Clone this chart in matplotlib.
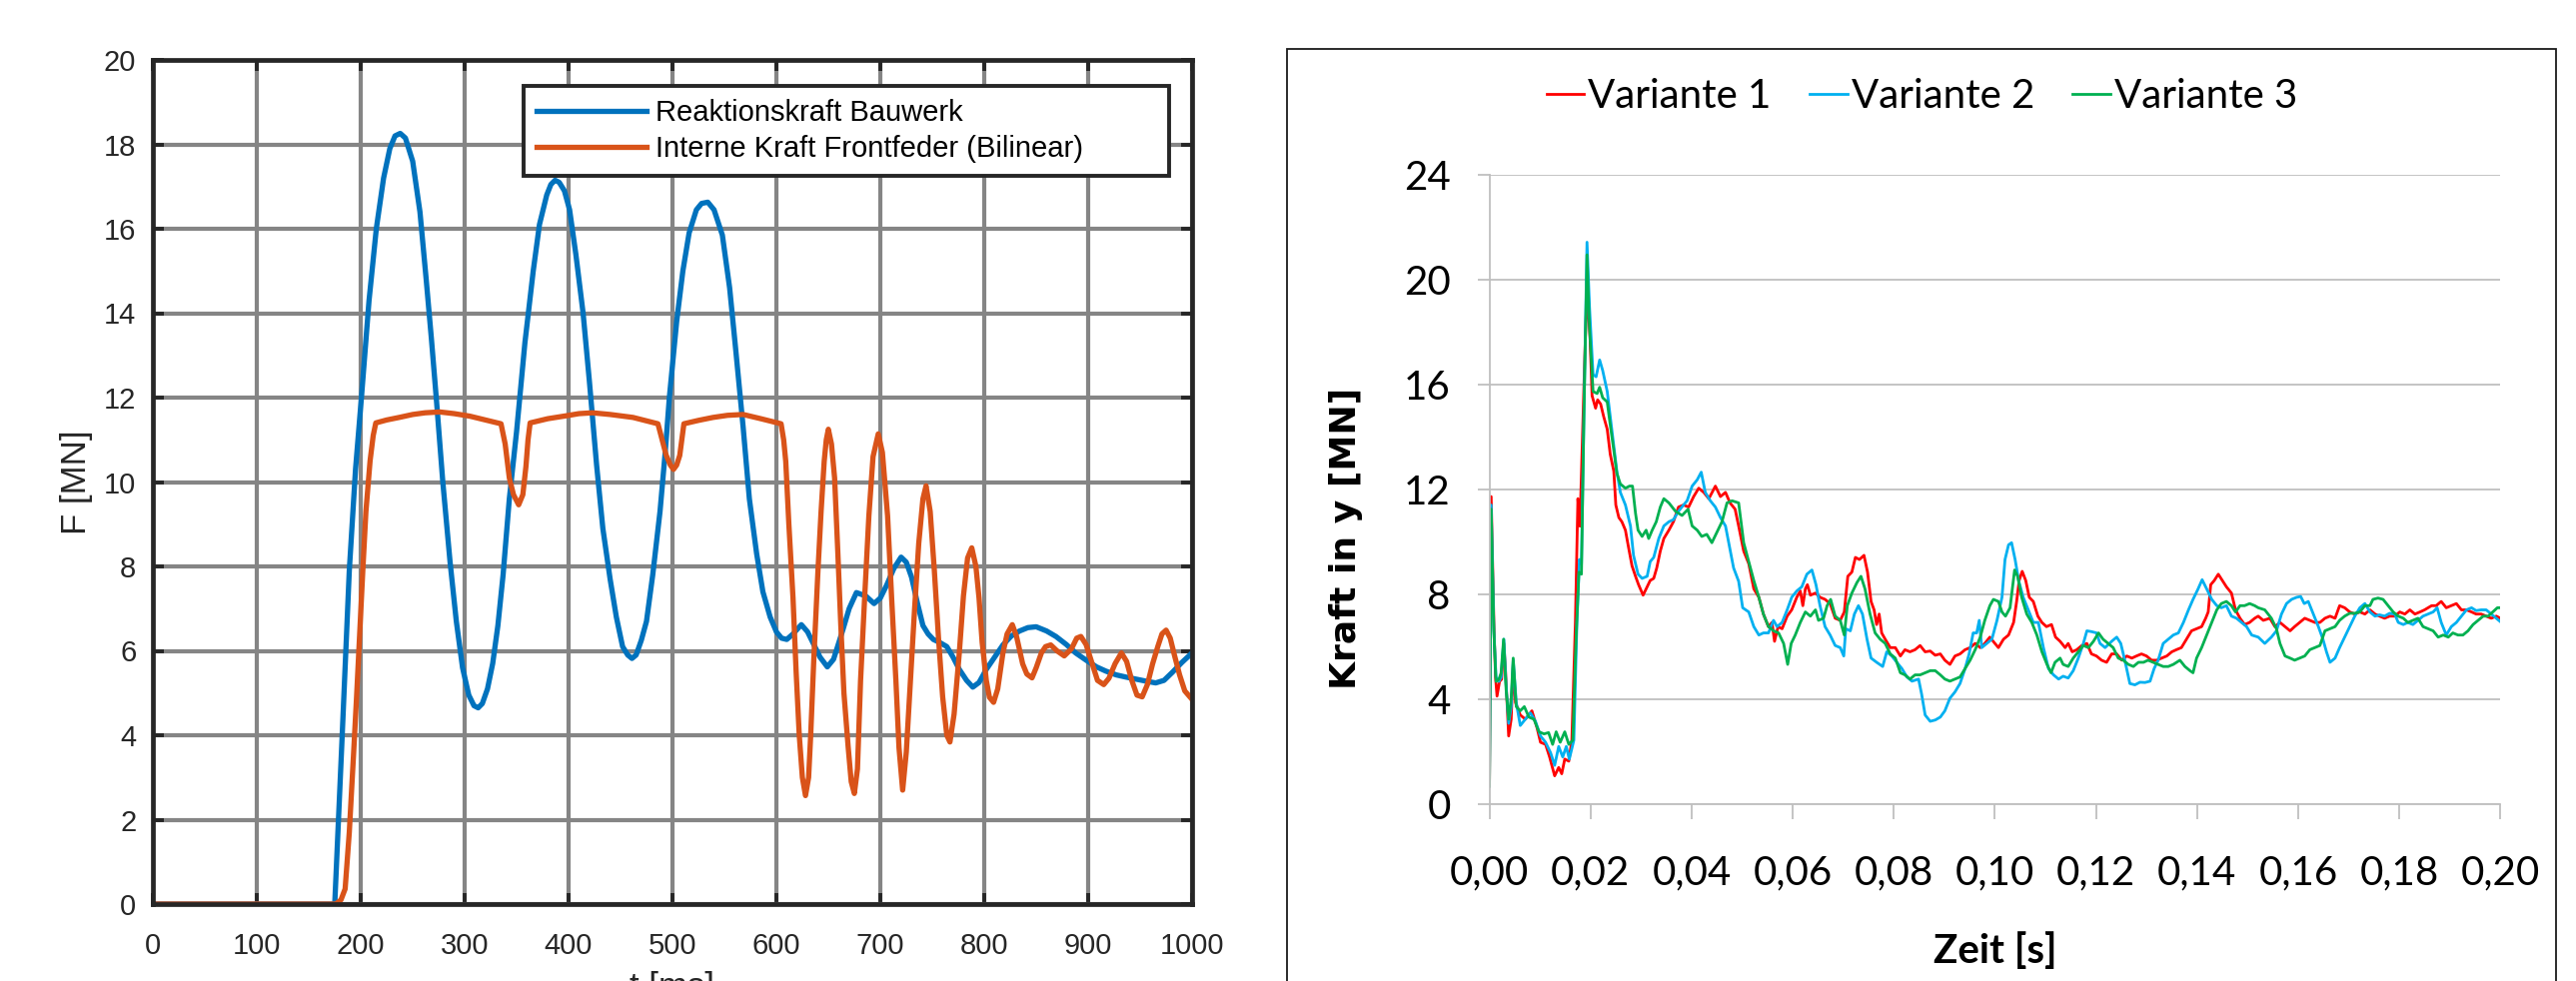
import matplotlib
matplotlib.use("Agg")
import matplotlib.pyplot as plt
import numpy as np
from matplotlib.patches import Rectangle
from matplotlib.ticker import FuncFormatter

# ---- linkes Diagramm (MATLAB): Zeit in ms, Kraft in MN ----
bau_t = [0, 175, 182, 189, 195, 201, 208, 215, 222, 228, 233, 238, 243, 250, 257, 263, 268, 273, 279, 286,
         292, 298, 304, 309, 313, 317, 322, 327, 332, 337, 343, 350, 358, 366, 372, 379, 383, 387, 391, 396,
         401, 407, 414, 420, 427, 433, 440, 446, 452, 457, 461, 465, 470, 475, 481, 488, 493, 497, 504, 510,
         516, 523, 528, 534, 540, 548, 555, 561, 568, 574, 581, 587, 594, 600, 605, 610, 616, 624, 630, 635,
         642, 649, 655, 664, 670, 677, 686, 694, 700, 706, 713, 720, 725, 730, 736, 741, 746, 751, 757, 764,
         770, 776, 783, 789, 795, 802, 810, 818, 826, 834, 842, 850, 860, 869, 879, 888, 898, 908, 917, 927,
         936, 946, 956, 965, 973, 981, 990, 1000]
bau_f = [0, 0, 3.9, 7.9, 10.3, 12.1, 14.3, 16.0, 17.2, 17.9, 18.2, 18.26, 18.15, 17.6, 16.4, 14.8, 13.4, 11.9, 10.0, 8.1,
         6.7, 5.6, 4.95, 4.7, 4.65, 4.75, 5.1, 5.7, 6.6, 7.8, 9.6, 11.2, 13.3, 15.0, 16.1, 16.8, 17.05, 17.15, 17.1, 16.9,
         16.45, 15.4, 14.0, 12.4, 10.4, 8.9, 7.7, 6.8, 6.1, 5.9, 5.82, 5.9, 6.25, 6.7, 7.8, 9.3, 10.7, 12.0, 13.8, 15.0,
         15.9, 16.45, 16.6, 16.63, 16.45, 15.85, 14.6, 13.1, 11.3, 9.6, 8.3, 7.4, 6.8, 6.45, 6.3, 6.27, 6.4, 6.62, 6.45, 6.2,
         5.85, 5.62, 5.8, 6.5, 7.0, 7.38, 7.3, 7.12, 7.25, 7.55, 7.95, 8.22, 8.1, 7.75, 7.1, 6.6, 6.4, 6.27, 6.2, 6.1,
         5.85, 5.56, 5.3, 5.14, 5.25, 5.56, 5.85, 6.14, 6.35, 6.47, 6.55, 6.57, 6.47, 6.34, 6.15, 5.95, 5.78, 5.62, 5.52, 5.43,
         5.38, 5.33, 5.28, 5.24, 5.3, 5.49, 5.72, 5.95]

feder_t = [0, 176, 181, 185, 189, 193, 196, 199, 202, 205, 209, 212, 214.5, 225, 237, 250, 262, 276, 290, 305,
           320, 335, 339, 343, 347, 352, 356, 359, 361, 363, 380, 398, 410, 423, 440, 462, 475, 486, 490, 494,
           498, 501, 504, 507, 509, 511, 525, 539, 553, 568, 585, 604.5, 607, 609, 612, 616, 619, 622, 625, 628,
           631, 633, 636, 640, 643, 646, 648, 650, 653, 656, 659, 662, 665, 669, 672, 675, 678, 681, 685, 689,
           693, 698, 702, 707, 711, 715, 718, 721.5, 725, 729, 733, 737, 741, 744, 748, 752, 756, 760, 764, 767,
           771, 776, 780, 784, 788, 792, 795, 798, 802, 805, 809, 813, 818, 822, 827, 831, 837, 841, 846, 850,
           855, 859, 864, 870, 877, 884, 889, 893, 898, 904, 909, 915, 920, 926, 932, 937, 942, 947, 952, 957,
           962, 967, 971, 975, 979, 983, 988, 993, 1000]
feder_f = [0, 0, 0.1, 0.36, 1.7, 3.5, 4.9, 6.4, 7.9, 9.3, 10.5, 11.1, 11.4, 11.47, 11.53, 11.6, 11.64, 11.66, 11.62, 11.56,
           11.47, 11.38, 10.9, 10.1, 9.7, 9.46, 9.7, 10.37, 11.0, 11.4, 11.5, 11.57, 11.62, 11.64, 11.6, 11.53, 11.45, 11.38, 11.0, 10.63,
           10.4, 10.3, 10.4, 10.63, 11.0, 11.38, 11.46, 11.53, 11.58, 11.6, 11.5, 11.38, 11.0, 10.49, 9.0, 7.25, 5.5, 4.0, 3.0, 2.57,
           3.0, 4.0, 5.8, 7.9, 9.3, 10.49, 11.0, 11.25, 10.9, 10.1, 8.4, 6.6, 5.0, 3.74, 2.9, 2.62, 3.2, 5.3, 7.3, 9.2,
           10.6, 11.14, 10.7, 9.2, 7.2, 5.3, 3.7, 2.7, 3.6, 5.3, 7.0, 8.55, 9.6, 9.91, 9.3, 7.9, 6.3, 4.91, 4.0, 3.84,
           4.5, 5.95, 7.3, 8.2, 8.44, 8.0, 7.25, 6.2, 5.3, 4.9, 4.78, 5.1, 5.95, 6.4, 6.62, 6.35, 5.69, 5.45, 5.36, 5.6,
           5.95, 6.1, 6.14, 6.0, 5.88, 6.05, 6.3, 6.34, 6.15, 5.69, 5.3, 5.2, 5.35, 5.7, 5.95, 5.75, 5.3, 4.95, 4.91, 5.2,
           5.69, 6.1, 6.4, 6.49, 6.3, 5.9, 5.43, 5.05, 4.85]

# ---- rechtes Diagramm (Excel): Zeit in ms, Kraft in MN ----
v1_t = [0, 0.34, 0.87, 1.2, 1.5, 2.0, 2.4, 2.85, 3.2, 3.8, 4.3, 4.7, 5.15, 6.1, 7.1, 8.4, 9.4, 10.1, 11.1, 11.9,
        12.9, 13.7, 14.3, 14.9, 15.7, 16.3, 17.0, 17.5, 17.9, 18.3, 18.9, 19.3, 19.9, 20.3, 21.0, 21.4, 22.0, 22.6, 23.3, 23.9,
        24.6, 25.0, 25.6, 26.2, 26.9, 27.5, 28.2, 28.9, 29.5, 30.4, 31.2, 31.8, 32.5, 33.1, 33.8, 34.5, 35.5, 36.4, 37.4, 38.4,
        39.4, 40.4, 41.4, 42.4, 43.4, 44.7, 45.7, 46.7, 47.6, 48.6, 49.3, 50.3, 51.3, 52.3, 53.3, 54.2, 55.2, 55.9, 56.4, 57.1,
        57.9, 58.9, 59.8, 60.8, 61.5, 62.0, 62.5, 62.9, 63.5, 64.5, 65.4, 66.4, 67.4, 68.4, 69.4, 70.2, 70.9, 71.7, 72.4, 73.2,
        74.1, 74.8, 75.5, 76.1, 76.6, 77.1, 77.6, 78.3, 79.3, 80.3, 81.3, 82.2, 83.2, 84.2, 85.2, 86.2, 87.2, 88.2, 89.2, 90.1,
        91.1, 92.1, 93.1, 94.1, 95.1, 96.1, 97.1, 98.0, 99.0, 100.0, 100.7, 101.7, 102.7, 103.7, 104.3, 104.8, 105.4, 106.1, 106.8, 107.6,
        108.5, 109.3, 110.2, 111.2, 112.0, 112.9, 113.9, 114.5, 115.3, 116.2, 117.2, 118.2, 119.1, 120.1, 121.1, 122.1, 123.1, 124.1, 125.1, 126.1,
        127.1, 128.0, 129.0, 130.0, 131.0, 132.0, 133.0, 134.0, 135.0, 135.9, 136.9, 137.9, 138.9, 139.9, 140.9, 141.7, 142.2, 142.7, 143.4, 144.2,
        145.0, 145.8, 146.8, 147.6, 148.5, 149.4, 150.4, 151.4, 152.1, 153.1, 154.4, 155.4, 156.4, 157.4, 158.4, 159.3, 160.3, 161.3, 162.3, 163.3,
        164.3, 165.3, 166.3, 167.3, 168.2, 169.2, 170.2, 171.2, 172.2, 173.2, 174.2, 175.2, 176.1, 177.1, 178.1, 179.1, 180.1, 181.1, 182.1, 183.1,
        184.1, 185.0, 186.4, 187.3, 188.3, 189.3, 190.3, 191.3, 192.3, 193.3, 194.3, 195.2, 196.2, 197.2, 198.2, 199.2, 200.0]
v1_f = [0.7, 11.73, 6.93, 4.84, 4.12, 4.68, 4.76, 6.13, 5.0, 2.6, 3.24, 5.33, 3.88, 3.4, 3.24, 3.56, 2.92, 2.36, 2.28, 1.8,
        1.08, 1.4, 1.16, 1.72, 1.64, 2.44, 6.93, 11.65, 10.6, 13.34, 17.34, 19.6, 17.82, 15.58, 15.1, 15.42, 15.26, 14.78, 14.3, 13.34,
        12.7, 11.41, 10.93, 10.77, 10.45, 9.81, 9.09, 8.69, 8.37, 7.97, 8.29, 8.53, 8.61, 9.01, 9.65, 10.13, 10.45, 10.77, 11.33, 11.41,
        11.33, 11.73, 12.05, 11.89, 11.65, 12.13, 11.73, 11.89, 11.49, 11.25, 10.61, 9.65, 9.17, 8.21, 7.89, 7.25, 6.77, 6.93, 6.21, 6.77,
        6.69, 7.17, 7.41, 7.89, 8.13, 7.57, 8.21, 8.37, 7.97, 8.05, 7.89, 7.81, 7.65, 7.09, 7.01, 7.33, 8.69, 8.85, 9.41, 9.33,
        9.49, 8.85, 7.73, 7.41, 6.85, 7.25, 6.53, 6.29, 5.97, 5.97, 5.65, 5.89, 5.81, 5.89, 6.05, 5.81, 5.84, 5.68, 5.73, 5.49,
        5.33, 5.65, 5.73, 5.89, 5.97, 6.13, 5.97, 6.13, 6.37, 6.13, 5.97, 6.29, 6.45, 6.93, 7.73, 8.53, 8.88, 8.53, 7.89, 7.73,
        7.17, 6.93, 6.77, 6.85, 6.37, 6.21, 5.97, 6.13, 5.81, 5.89, 6.05, 6.13, 5.73, 5.65, 5.49, 5.41, 5.73, 5.73, 5.49, 5.65,
        5.57, 5.65, 5.73, 5.65, 5.49, 5.49, 5.57, 5.65, 5.81, 5.89, 5.97, 6.29, 6.61, 6.69, 6.77, 7.09, 7.33, 8.37, 8.53, 8.77,
        8.53, 8.29, 8.05, 7.41, 7.09, 6.85, 6.93, 7.09, 7.17, 7.01, 7.09, 6.77, 6.93, 6.77, 6.61, 6.77, 6.93, 7.09, 7.01, 6.93,
        6.93, 7.09, 7.17, 7.09, 7.57, 7.49, 7.33, 7.25, 7.33, 7.25, 7.41, 7.25, 7.17, 7.09, 7.17, 7.17, 7.33, 7.25, 7.41, 7.25,
        7.33, 7.41, 7.57, 7.57, 7.73, 7.49, 7.57, 7.65, 7.41, 7.41, 7.33, 7.25, 7.25, 7.17, 7.09, 7.17, 7.09]

v2_t = [0, 0.34, 0.87, 1.3, 1.86, 2.3, 2.85, 3.3, 3.8, 4.3, 4.7, 5.3, 6.1, 7.1, 8.1, 9.1, 10.1, 11.1, 12.1, 12.9,
        13.7, 14.5, 15.2, 15.8, 16.7, 17.3, 17.8, 18.2, 18.7, 19.3, 19.8, 20.5, 21.1, 21.8, 22.4, 23.3, 23.9, 24.6, 25.2, 25.9,
        26.9, 27.9, 28.5, 29.4, 30.2, 31.2, 31.8, 32.5, 33.5, 34.5, 35.5, 36.4, 37.4, 38.4, 39.1, 40.1, 41.1, 41.9, 42.7, 43.7,
        44.7, 45.7, 46.7, 47.5, 48.3, 49.3, 50.1, 51.3, 52.3, 53.3, 54.2, 55.2, 56.2, 56.9, 57.9, 58.9, 59.8, 60.8, 61.8, 62.8,
        63.8, 64.6, 65.4, 66.4, 67.4, 68.4, 69.4, 70.1, 70.5, 71.4, 72.2, 73.0, 73.8, 74.7, 75.5, 76.6, 77.8, 78.6, 79.6, 80.6,
        81.6, 82.6, 83.6, 84.9, 85.5, 86.2, 87.2, 88.2, 89.2, 90.1, 91.1, 92.1, 93.1, 94.1, 94.9, 95.7, 96.4, 96.9, 97.4, 98.4,
        99.4, 100.4, 101.4, 102.0, 102.7, 103.3, 104.0, 104.7, 105.6, 106.6, 107.6, 108.6, 109.6, 110.6, 111.6, 112.6, 113.5, 114.5, 115.5, 116.5,
        117.5, 118.2, 119.1, 120.1, 120.8, 121.8, 123.1, 124.1, 124.9, 125.7, 126.7, 127.7, 128.7, 129.7, 130.7, 131.5, 132.3, 133.3, 134.3, 135.3,
        136.3, 137.3, 138.3, 139.2, 140.2, 141.0, 141.9, 142.9, 143.9, 144.8, 145.8, 146.8, 147.8, 148.8, 149.8, 150.8, 152.1, 153.4, 154.7, 155.7,
        156.7, 157.7, 158.7, 159.7, 160.5, 161.2, 162.0, 163.0, 164.0, 164.9, 165.6, 166.3, 167.3, 168.2, 169.2, 170.2, 171.2, 172.2, 173.2, 174.2,
        175.2, 176.1, 177.1, 178.1, 179.1, 179.8, 180.8, 181.7, 182.7, 183.7, 184.7, 185.7, 186.7, 187.5, 188.3, 189.3, 190.3, 191.3, 192.3, 193.3,
        194.3, 195.2, 196.2, 197.2, 198.2, 199.2, 200.0]
v2_f = [0.9, 11.41, 6.61, 4.84, 4.68, 4.84, 6.29, 4.52, 3.08, 3.72, 5.49, 3.88, 3.0, 3.24, 3.48, 3.16, 2.6, 2.36, 1.96, 1.48,
        2.2, 1.8, 2.2, 1.72, 2.44, 6.93, 9.33, 9.17, 14.94, 21.43, 18.94, 16.38, 16.3, 16.94, 16.54, 15.74, 14.78, 13.66, 12.7, 11.89,
        11.41, 10.61, 9.49, 8.77, 8.61, 8.69, 9.25, 9.41, 10.13, 10.61, 10.77, 10.85, 11.17, 11.41, 11.57, 12.13, 12.37, 12.66, 11.89, 11.57,
        11.33, 10.93, 10.61, 9.81, 9.01, 8.5, 7.49, 7.33, 6.77, 6.45, 6.53, 6.53, 7.01, 6.77, 6.93, 7.41, 7.89, 8.13, 8.29, 8.77,
        8.93, 8.37, 7.57, 6.77, 6.45, 6.05, 5.97, 5.65, 6.69, 6.61, 7.25, 7.57, 7.25, 6.29, 5.57, 5.41, 5.25, 5.81, 5.65, 5.41,
        5.17, 4.85, 4.69, 4.77, 4.2, 3.4, 3.16, 3.21, 3.32, 3.56, 4.04, 4.28, 4.6, 5.17, 5.73, 6.53, 6.53, 7.01, 5.97, 6.13,
        6.29, 7.0, 7.89, 9.33, 9.89, 9.97, 9.33, 8.53, 7.89, 7.41, 6.93, 6.93, 5.97, 5.17, 4.93, 4.77, 4.88, 4.81, 5.09, 5.57,
        6.13, 6.61, 6.58, 6.53, 6.13, 5.97, 6.21, 6.37, 6.13, 5.49, 4.6, 4.55, 4.65, 4.64, 4.69, 5.17, 5.49, 6.13, 6.29, 6.45,
        6.53, 6.93, 7.41, 7.81, 8.21, 8.56, 8.21, 7.81, 7.57, 7.49, 7.57, 7.17, 7.09, 6.93, 6.77, 6.45, 6.37, 6.13, 6.37, 6.61,
        7.25, 7.65, 7.81, 7.89, 7.92, 7.65, 7.73, 7.25, 6.77, 6.29, 5.81, 5.41, 5.57, 5.97, 6.37, 6.77, 7.17, 7.49, 7.65, 7.33,
        7.17, 7.22, 7.17, 7.28, 7.25, 6.93, 6.85, 6.93, 6.85, 7.01, 7.17, 7.25, 7.33, 7.49, 6.93, 6.45, 6.77, 6.93, 7.17, 7.41,
        7.49, 7.38, 7.41, 7.41, 7.25, 7.09, 6.96]

v3_t = [0, 0.34, 0.87, 1.3, 1.86, 2.3, 2.8, 3.3, 3.8, 4.3, 4.7, 5.3, 6.1, 6.9, 7.8, 8.8, 9.8, 10.8, 11.7, 12.5,
        13.2, 14.0, 14.9, 15.7, 16.5, 17.1, 17.7, 18.2, 18.7, 19.3, 19.8, 20.5, 21.3, 21.8, 22.4, 23.3, 23.9, 24.6, 25.2, 25.9,
        26.9, 27.7, 28.3, 28.9, 29.4, 30.2, 31.0, 31.5, 32.2, 33.0, 33.8, 34.5, 35.5, 36.8, 38.1, 39.3, 40.1, 41.1, 42.0, 43.0,
        44.0, 45.0, 46.0, 47.0, 48.0, 49.3, 50.3, 51.3, 52.3, 53.3, 54.2, 55.2, 56.2, 57.2, 58.2, 59.0, 59.7, 60.5, 61.5, 62.5,
        63.5, 64.5, 65.1, 66.1, 66.8, 67.5, 68.4, 69.4, 70.2, 70.8, 71.7, 72.7, 73.5, 74.3, 75.3, 76.3, 77.3, 78.3, 79.3, 80.3,
        81.3, 82.2, 83.2, 84.2, 85.2, 86.2, 87.2, 88.2, 89.2, 90.1, 91.1, 92.1, 93.1, 94.1, 95.1, 96.1, 97.1, 98.0, 99.0, 99.7,
        100.7, 101.4, 102.1, 103.0, 103.9, 104.5, 105.3, 106.3, 107.3, 108.3, 109.3, 110.3, 111.1, 111.9, 112.9, 113.5, 114.5, 115.5, 116.5, 117.5,
        118.5, 119.5, 120.5, 121.4, 122.4, 123.4, 124.4, 125.4, 126.4, 127.4, 128.4, 129.4, 130.3, 131.3, 132.3, 133.3, 134.3, 135.3, 136.6, 137.6,
        138.6, 139.2, 139.9, 140.9, 141.9, 142.9, 143.9, 144.8, 145.8, 146.8, 147.6, 148.5, 149.4, 150.4, 151.4, 152.1, 153.4, 154.7, 155.7, 156.4,
        157.4, 158.4, 159.3, 160.3, 161.3, 162.3, 163.3, 164.3, 165.3, 166.3, 167.3, 168.2, 169.2, 170.2, 171.2, 172.2, 173.2, 174.2, 174.8, 175.8,
        176.8, 177.8, 178.8, 179.8, 180.8, 181.7, 182.7, 183.7, 184.7, 185.7, 186.7, 187.7, 188.7, 189.7, 190.6, 191.6, 192.6, 193.6, 194.6, 195.6,
        196.6, 197.6, 198.5, 199.4, 200.0]
v3_f = [0.68, 11.25, 6.61, 4.68, 4.76, 5.0, 6.29, 4.36, 3.24, 4.04, 5.57, 3.72, 3.56, 3.72, 3.32, 3.24, 2.76, 2.68, 2.73, 2.28,
        2.76, 2.36, 2.76, 2.28, 2.44, 6.13, 8.85, 8.77, 14.94, 20.95, 18.14, 15.74, 15.66, 15.9, 15.5, 15.34, 14.46, 13.5, 12.62, 12.21,
        12.05, 12.13, 12.13, 11.09, 10.45, 10.21, 10.45, 10.13, 10.45, 10.77, 11.33, 11.65, 11.49, 11.17, 11.01, 11.25, 10.61, 10.45, 10.21, 10.29,
        9.97, 10.37, 10.77, 11.49, 11.57, 11.49, 9.97, 9.25, 8.53, 7.89, 7.25, 6.77, 6.61, 6.53, 6.13, 5.33, 6.13, 6.45, 6.93, 7.33,
        7.17, 7.41, 7.01, 7.09, 7.57, 7.81, 7.17, 7.01, 6.45, 7.57, 8.05, 8.45, 8.69, 8.21, 7.25, 6.53, 6.29, 6.13, 5.73, 5.57,
        5.01, 4.93, 4.77, 4.93, 4.93, 5.01, 5.09, 5.09, 4.93, 4.77, 4.69, 4.77, 4.85, 5.17, 5.49, 5.89, 6.37, 7.01, 7.57, 7.81,
        7.73, 7.33, 7.17, 7.49, 8.93, 8.69, 7.89, 7.25, 6.93, 6.45, 5.81, 5.33, 5.01, 5.41, 5.57, 5.33, 5.25, 5.57, 5.81, 6.05,
        5.97, 6.21, 6.53, 6.29, 6.13, 5.97, 5.57, 5.49, 5.33, 5.25, 5.41, 5.41, 5.49, 5.41, 5.33, 5.25, 5.25, 5.33, 5.49, 5.25,
        5.09, 5.01, 5.57, 5.97, 6.45, 6.93, 7.41, 7.65, 7.73, 7.57, 7.33, 7.57, 7.57, 7.65, 7.57, 7.49, 7.41, 7.09, 6.69, 6.13,
        5.65, 5.57, 5.49, 5.57, 5.65, 5.89, 5.97, 6.05, 6.61, 6.69, 6.77, 7.01, 7.17, 7.28, 7.28, 7.33, 7.57, 7.57, 7.81, 7.86,
        7.81, 7.57, 7.33, 7.17, 7.09, 6.93, 7.01, 7.09, 6.77, 6.69, 6.61, 6.37, 6.45, 6.37, 6.53, 6.45, 6.45, 6.61, 6.85, 7.01,
        7.17, 7.17, 7.33, 7.49, 7.49]

fig = plt.figure(figsize=(25.78, 9.82), dpi=100)
fig.patch.set_facecolor("white")

# ================= links =================
dark = "#262626"
axl = fig.add_axes([153 / 2578, 77 / 982, 1040 / 2578, 845 / 982])
axl.plot(bau_t, bau_f, color="#0072BD", lw=3.8, label="Reaktionskraft Bauwerk", solid_joinstyle="round")
axl.plot(feder_t, feder_f, color="#D95319", lw=3.8, label="Interne Kraft Frontfeder (Bilinear)",
         solid_joinstyle="round")
axl.set_xlim(0, 1000)
axl.set_ylim(0, 20)
axl.set_xticks(np.arange(0, 1001, 100))
axl.set_yticks(np.arange(0, 21, 2))
axl.set_axisbelow(True)
axl.grid(True, color="#858585", lw=3.0)
for s in axl.spines.values():
    s.set_color(dark)
    s.set_linewidth(3.4)
axl.tick_params(direction="in", length=8, width=2.8, color=dark, top=True, right=True,
                labelsize=21, labelcolor=dark)
axl.tick_params(axis="x", pad=20)
axl.tick_params(axis="y", pad=12)
for lab in axl.get_xticklabels() + axl.get_yticklabels():
    lab.set_fontfamily("Liberation Sans")
axl.set_ylabel("F [MN]", fontsize=25, family="Liberation Sans", color=dark)
axl.yaxis.set_label_coords(-0.058, 0.4994)
axl.set_xlabel("t [ms]", fontsize=25, family="Liberation Sans", color=dark, labelpad=8)
leg = axl.legend(loc="upper left", bbox_to_anchor=(0.3567, 0.8615, 0.6212, 0.1077), mode="expand",
                 borderaxespad=0, prop={"family": "Liberation Sans", "size": 21}, handlelength=3.76,
                 handletextpad=0.3, labelspacing=0.28, borderpad=0.45, fancybox=False, framealpha=1)
leg.get_frame().set_edgecolor(dark)
leg.get_frame().set_linewidth(2.8)

# ================= rechts =================
fig.patches.append(Rectangle((1288 / 2578, -0.05), (2558 - 1288) / 2578, (982 - 49) / 982 + 0.05,
                             transform=fig.transFigure, fill=False, edgecolor="#1a1a1a", lw=1.3))

axr = fig.add_axes([1490.6 / 2578, 177 / 982, 1011.7 / 2578, 630 / 982])
grey = "#BFBFBF"
axr.plot(np.array(v1_t) / 1000, v1_f, color="#FF0000", lw=2.0, label="Variante 1")
axr.plot(np.array(v2_t) / 1000, v2_f, color="#00B0F0", lw=2.0, label="Variante 2")
axr.plot(np.array(v3_t) / 1000, v3_f, color="#00B050", lw=2.0, label="Variante 3")
axr.set_xlim(0, 0.2)
axr.set_ylim(0, 24)
axr.set_xticks(np.arange(0, 0.2001, 0.02))
axr.set_yticks(np.arange(0, 25, 4))
axr.xaxis.set_major_formatter(FuncFormatter(lambda v, p: f"{v:.2f}".replace(".", ",")))
axr.yaxis.grid(True, color=grey, lw=1.3)
axr.set_axisbelow(True)
for side in ["top", "right"]:
    axr.spines[side].set_visible(False)
for side in ["left", "bottom"]:
    axr.spines[side].set_color(grey)
    axr.spines[side].set_linewidth(1.3)
axr.tick_params(direction="out", color=grey, width=1.3, labelsize=29, labelcolor="black")
axr.tick_params(axis="x", length=11, pad=25)
axr.tick_params(axis="y", length=9, pad=19)
for lab in axr.get_xticklabels() + axr.get_yticklabels():
    lab.set_fontfamily("Lato")
axr.set_xlabel("Zeit [s]", fontsize=29, family="Lato", fontweight="bold", labelpad=30)
fig.text(1347 / 2578, 1 - 539 / 982, "Kraft in y [MN]", rotation=90, ha="center", va="center",
         fontsize=26, family="DejaVu Sans", fontweight="bold")
fig.legend(handles=axr.get_lines(), loc="center", bbox_to_anchor=(1923.5 / 2578, 1 - 97 / 982), ncol=3,
           frameon=False, prop={"family": "Lato", "size": 29}, handlelength=0.93, handletextpad=0.1,
           columnspacing=0.95, borderpad=0, borderaxespad=0)

fig.savefig("out.png", dpi=100)
